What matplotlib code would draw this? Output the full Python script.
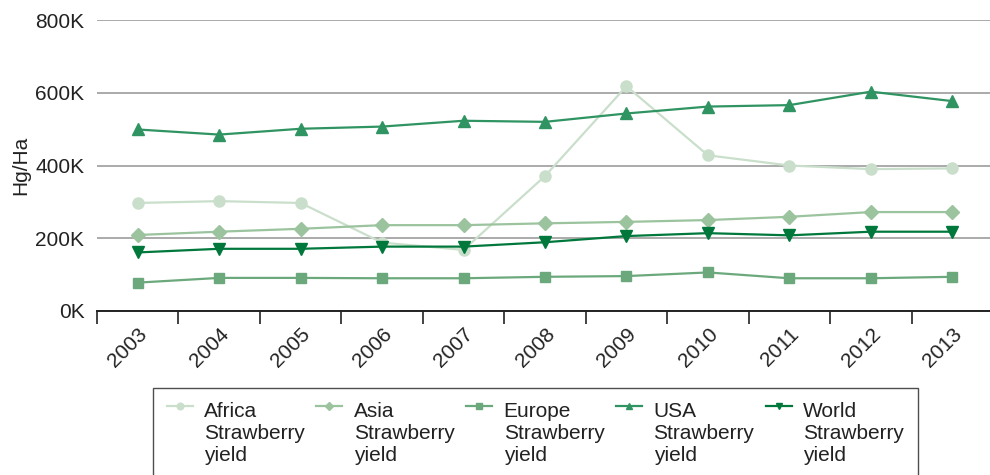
import matplotlib
matplotlib.use("Agg")
import matplotlib.pyplot as plt
import numpy as np
from matplotlib.ticker import FuncFormatter, FixedLocator

plt.rcParams["font.family"] = ["Liberation Sans", "DejaVu Sans"]

years = ["2003", "2004", "2005", "2006", "2007", "2008",
         "2009", "2010", "2011", "2012", "2013"]

# strawberry yield, Hg/Ha
africa = [297000, 302000, 297000, 188000, 168000, 371000,
          618000, 428000, 400000, 390000, 392000]
asia = [209000, 218000, 226000, 236000, 236000, 241000,
        245000, 250000, 259000, 272000, 272000]
europe = [78000, 91000, 91000, 90000, 90000, 94000,
          96000, 106000, 90000, 90000, 94000]
usa = [499000, 485000, 501000, 507000, 523000, 520000,
       543000, 562000, 566000, 603000, 577000]
world = [161000, 171000, 171000, 177000, 177000, 189000,
         206000, 214000, 208000, 218000, 218000]

series = [
    ("Africa\nStrawberry\nyield", africa, "#cadfcb", "o", 8),
    ("Asia\nStrawberry\nyield", asia, "#9bc39e", "D", 7),
    ("Europe\nStrawberry\nyield", europe, "#6ba97c", "s", 7.5),
    ("USA\nStrawberry\nyield", usa, "#2f9462", "^", 8),
    ("World\nStrawberry\nyield", world, "#00783c", "v", 8),
]

FS = 15
TXT = "#222222"

fig = plt.figure(figsize=(9.9, 4.75), dpi=100)
ax = fig.add_axes([97 / 990, 1 - 311 / 475, 896 / 990, 291 / 475])

x = list(range(len(years)))
for label, vals, color, marker, ms in series:
    ax.plot(x, vals, color=color, marker=marker, markersize=ms,
            linewidth=1.6, label=label, clip_on=False, zorder=3)

ax.set_ylim(0, 800000)
ax.set_xlim(-0.5, len(years) - 0.5)
ax.yaxis.set_major_locator(FixedLocator([0, 200000, 400000, 600000, 800000]))
ax.yaxis.set_major_formatter(FuncFormatter(lambda v, p: f"{int(v / 1000)}K"))
ax.grid(axis="y", color="#aaaaaa", linewidth=1.4)
ax.set_axisbelow(True)
ax.tick_params(axis="y", length=0, pad=9, labelsize=FS, colors=TXT)

ax.set_xticks(x)
ax.set_xticklabels(years, rotation=45, ha="right", rotation_mode="anchor")
ax.set_xticks([i - 0.5 for i in range(len(years) + 1)], minor=True)
ax.tick_params(axis="x", which="major", length=0, pad=10, labelsize=FS,
               colors=TXT)
ax.tick_params(axis="x", which="minor", length=9, width=1.2, color=TXT)

for side in ("top", "right", "left"):
    ax.spines[side].set_visible(False)
ax.spines["bottom"].set_color(TXT)
ax.spines["bottom"].set_linewidth(1.4)

ax.set_ylabel("Hg/Ha", fontsize=FS, color=TXT, labelpad=4)

leg = fig.legend(loc="upper left", bbox_to_anchor=(153 / 990, 1 - 388 / 475),
                 ncol=5, fontsize=FS, frameon=True, fancybox=False,
                 handlelength=1.25, handletextpad=0.55, columnspacing=0.55,
                 borderaxespad=0, borderpad=0.65, markerscale=0.6)
leg.get_frame().set_edgecolor(TXT)
leg.get_frame().set_linewidth(1.0)
for t in leg.get_texts():
    t.set_color(TXT)
    t.set_linespacing(1.22)

# line the legend keys up with the first line of each label
for h in leg.legend_handles:
    h.set_ydata(np.asarray(h.get_ydata()) + 20)

fig.savefig("out.png", dpi=100)
